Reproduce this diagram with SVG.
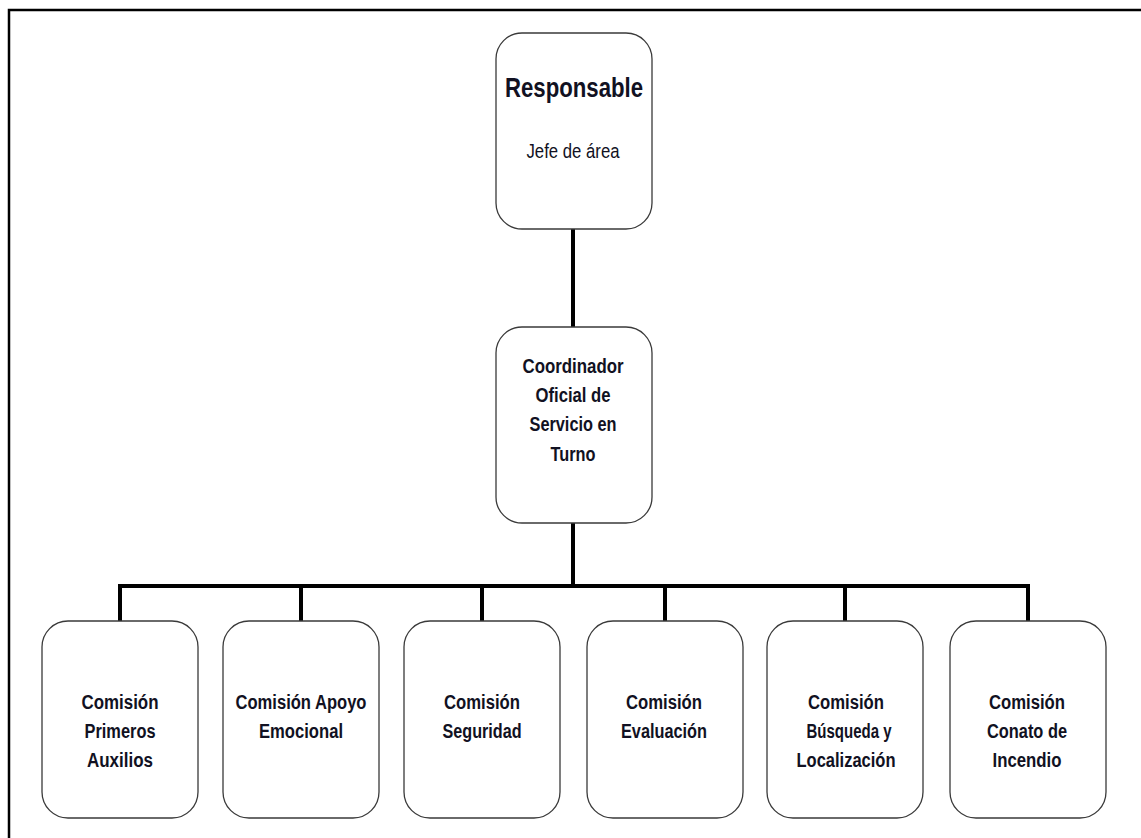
<svg xmlns="http://www.w3.org/2000/svg" width="1141" height="838" viewBox="0 0 1141 838">
  <style>
    .box { fill: #ffffff; stroke: #3a3a3a; stroke-width: 1.3; }
    .link { fill: none; stroke: #000000; stroke-width: 4; stroke-linecap: butt; }
    .frame { fill: none; stroke: #000000; stroke-width: 2.5; }
    text { font-family: "Liberation Sans Narrow", "Arial Narrow", "Liberation Sans", sans-serif; fill: #111122; text-anchor: middle; }
    .lbl { font-size: 20px; font-weight: bold; }
    .title { font-size: 28px; font-weight: bold; }
    .sub { font-size: 20.5px; font-weight: normal; }
  </style>

  <rect width="1141" height="838" fill="#ffffff"/>

  <!-- page frame: top and left rules -->
  <path class="frame" d="M9,838 V10 H1141"/>

  <!-- connectors -->
  <g id="connectors">
    <path class="link" d="M573,229 V327"/>
    <path class="link" d="M573,523 V586"/>
    <path class="link" d="M120,621 V586 H1028 V621"/>
    <path class="link" d="M301,586 V621"/>
    <path class="link" d="M482,586 V621"/>
    <path class="link" d="M665,586 V621"/>
    <path class="link" d="M845,586 V621"/>
  </g>

  <g id="responsable">
    <rect class="box" x="496" y="33" width="156" height="196" rx="26"/>
    <text class="title" x="574" y="97" textLength="138" lengthAdjust="spacingAndGlyphs">Responsable</text>
    <text class="sub" x="573" y="158" textLength="93" lengthAdjust="spacingAndGlyphs">Jefe de área</text>
  </g>

  <g id="coordinador">
    <rect class="box" x="496" y="327" width="156" height="196" rx="26"/>
    <text class="lbl" x="573" y="373" textLength="101" lengthAdjust="spacingAndGlyphs">Coordinador</text>
    <text class="lbl" x="573" y="402" textLength="75" lengthAdjust="spacingAndGlyphs">Oficial de</text>
    <text class="lbl" x="573" y="431" textLength="87" lengthAdjust="spacingAndGlyphs">Servicio en</text>
    <text class="lbl" x="573" y="461" textLength="45" lengthAdjust="spacingAndGlyphs">Turno</text>
  </g>

  <g id="primeros-auxilios">
    <rect class="box" x="42" y="621" width="156" height="197" rx="26"/>
    <text class="lbl" x="120" y="709" textLength="77" lengthAdjust="spacingAndGlyphs">Comisión</text>
    <text class="lbl" x="120" y="738" textLength="71" lengthAdjust="spacingAndGlyphs">Primeros</text>
    <text class="lbl" x="120" y="767" textLength="66" lengthAdjust="spacingAndGlyphs">Auxilios</text>
  </g>

  <g id="apoyo-emocional">
    <rect class="box" x="223" y="621" width="156" height="197" rx="26"/>
    <text class="lbl" x="301" y="709" textLength="131" lengthAdjust="spacingAndGlyphs">Comisión Apoyo</text>
    <text class="lbl" x="301" y="738" textLength="84" lengthAdjust="spacingAndGlyphs">Emocional</text>
  </g>

  <g id="seguridad">
    <rect class="box" x="404" y="621" width="156" height="197" rx="26"/>
    <text class="lbl" x="482" y="709" textLength="76" lengthAdjust="spacingAndGlyphs">Comisión</text>
    <text class="lbl" x="482" y="738" textLength="79" lengthAdjust="spacingAndGlyphs">Seguridad</text>
  </g>

  <g id="evaluacion">
    <rect class="box" x="587" y="621" width="156" height="197" rx="26"/>
    <text class="lbl" x="664" y="709" textLength="76" lengthAdjust="spacingAndGlyphs">Comisión</text>
    <text class="lbl" x="664" y="738" textLength="86" lengthAdjust="spacingAndGlyphs">Evaluación</text>
  </g>

  <g id="busqueda-localizacion">
    <rect class="box" x="767" y="621" width="156" height="197" rx="26"/>
    <text class="lbl" x="846" y="709" textLength="76" lengthAdjust="spacingAndGlyphs">Comisión</text>
    <text class="lbl" x="849" y="738" textLength="85" lengthAdjust="spacingAndGlyphs">Búsqueda y</text>
    <text class="lbl" x="846" y="767" textLength="99" lengthAdjust="spacingAndGlyphs">Localización</text>
  </g>

  <g id="conato-incendio">
    <rect class="box" x="950" y="621" width="156" height="197" rx="26"/>
    <text class="lbl" x="1027" y="709" textLength="76" lengthAdjust="spacingAndGlyphs">Comisión</text>
    <text class="lbl" x="1027" y="738" textLength="80" lengthAdjust="spacingAndGlyphs">Conato de</text>
    <text class="lbl" x="1027" y="767" textLength="69" lengthAdjust="spacingAndGlyphs">Incendio</text>
  </g>
</svg>
